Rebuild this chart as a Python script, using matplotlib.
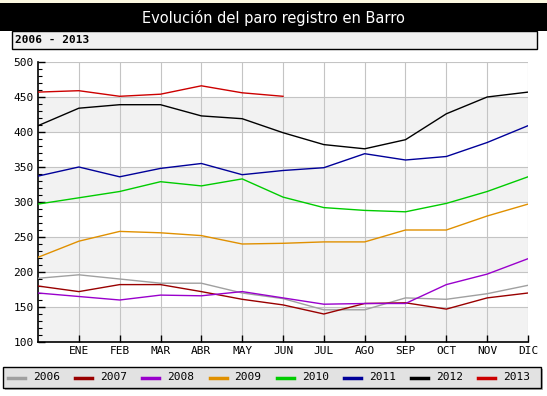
import numpy as np
import matplotlib.pyplot as plt
from matplotlib.patches import Rectangle
from matplotlib.lines import Line2D

# Data
months = ["", "ENE", "FEB", "MAR", "ABR", "MAY", "JUN",
          "JUL", "AGO", "SEP", "OCT", "NOV", "DIC"]
years = ["2006", "2007", "2008", "2009", "2010", "2011", "2012", "2013"]

paro_2006 = [191, 196, 190, 184, 184, 170, 162, 146, 146, 163, 161, 169, 181]
paro_2007 = [180, 172, 182, 182, 172, 161, 153, 140, 155, 156, 147, 163, 170]
paro_2008 = [170, 165, 160, 167, 166, 172, 163, 154, 155, 155, 182, 197, 219]
paro_2009 = [221, 244, 258, 256, 252, 240, 241, 243, 243, 260, 260, 280, 297]
paro_2010 = [297, 306, 315, 329, 323, 333, 307, 292, 288, 286, 298, 315, 336]
paro_2011 = [337, 350, 336, 348, 355, 339, 345, 349, 369, 360, 365, 385, 409]
paro_2012 = [409, 434, 439, 439, 423, 419, 399, 382, 376, 389, 426, 450, 457]
paro_2013 = [457, 459, 451, 454, 466, 456, 451]

series = [paro_2006, paro_2007, paro_2008, paro_2009,
          paro_2010, paro_2011, paro_2012, paro_2013]
colors = ["#a0a0a0", "#990000", "#9900cc", "#e09000",
          "#00cc00", "#000099", "#000000", "#cc0000"]

mono = "DejaVu Sans Mono"

fig = plt.figure(figsize=(5.47, 3.96), dpi=100)
fig.patch.set_facecolor("white")

# thin pale strip at the very top
fig.patches.append(Rectangle((0, 1 - 3 / 396), 1, 3 / 396, transform=fig.transFigure,
                             facecolor="#fbf8e0", edgecolor="none", zorder=0))

# Title bar
fig.patches.append(Rectangle((0, 1 - 31 / 396), 1, 28 / 396, transform=fig.transFigure,
                             facecolor="black", edgecolor="none", zorder=0))
fig.text(0.5, 1 - 17.5 / 396, "Evolución del paro registro en Barro", color="white",
         ha="center", va="center", fontsize=10.5, family="DejaVu Sans")

# Sub header box
fig.patches.append(Rectangle((12 / 547, 1 - 49 / 396), 525 / 547, 18 / 396,
                             transform=fig.transFigure, facecolor="#f0f0f0",
                             edgecolor="black", linewidth=1, zorder=1))
fig.text(15 / 547, 1 - 40 / 396, "2006 - 2013", color="black", ha="left", va="center",
         fontsize=8, family=mono, fontweight="bold")

# Main axes
ax = fig.add_axes([38 / 547, 1 - 342 / 396, 490 / 547, 280 / 396])
x = np.arange(len(months))

for lo in range(100, 500, 100):
    ax.axhspan(lo, lo + 50, color="#f2f2f2", zorder=0, linewidth=0)

for vals, c in zip(series, colors):
    ax.plot(x[:len(vals)], vals, color=c, linewidth=1, zorder=3)

ax.set_xlim(0, 12)
ax.set_ylim(100, 500)
ax.set_xticks(x[1:])
ax.set_xticklabels(months[1:])
ax.set_yticks(np.arange(100, 501, 50))
ax.set_yticks(np.arange(100, 501, 10), minor=True)
ax.grid(True, which="major", color="#c4c4c4", linewidth=0.8, zorder=1)
ax.set_axisbelow(True)
ax.tick_params(axis="both", which="major", direction="in", length=5, width=1,
               labelsize=8, colors="black", pad=3)
ax.tick_params(axis="y", which="minor", direction="in", length=3, width=0.8)
for lab in ax.get_xticklabels() + ax.get_yticklabels():
    lab.set_family(mono)
ax.spines["top"].set_visible(False)
ax.spines["right"].set_visible(False)
ax.spines["left"].set_linewidth(1.2)
ax.spines["bottom"].set_linewidth(1.2)

# Legend box with shadow
fig.patches.append(Rectangle((5 / 547, 1 - 390 / 396), 538 / 547, 21 / 396,
                             transform=fig.transFigure, facecolor="#b0b0b0",
                             edgecolor="none", zorder=1))
fig.patches.append(Rectangle((3 / 547, 1 - 388 / 396), 538 / 547, 21 / 396,
                             transform=fig.transFigure, facecolor="#e2e2e2",
                             edgecolor="black", linewidth=1, zorder=2))
for i, (yr, c) in enumerate(zip(years, colors)):
    x0 = 8 + i * 67.2
    ly = 1 - 377.5 / 396
    fig.lines.append(Line2D([x0 / 547, (x0 + 17) / 547], [ly, ly], transform=fig.transFigure,
                            color=c, linewidth=2.5, zorder=3))
    fig.text((x0 + 25) / 547, ly, yr, ha="left", va="center", fontsize=8,
             family=mono, zorder=3)

fig.savefig("out.png", dpi=100)
